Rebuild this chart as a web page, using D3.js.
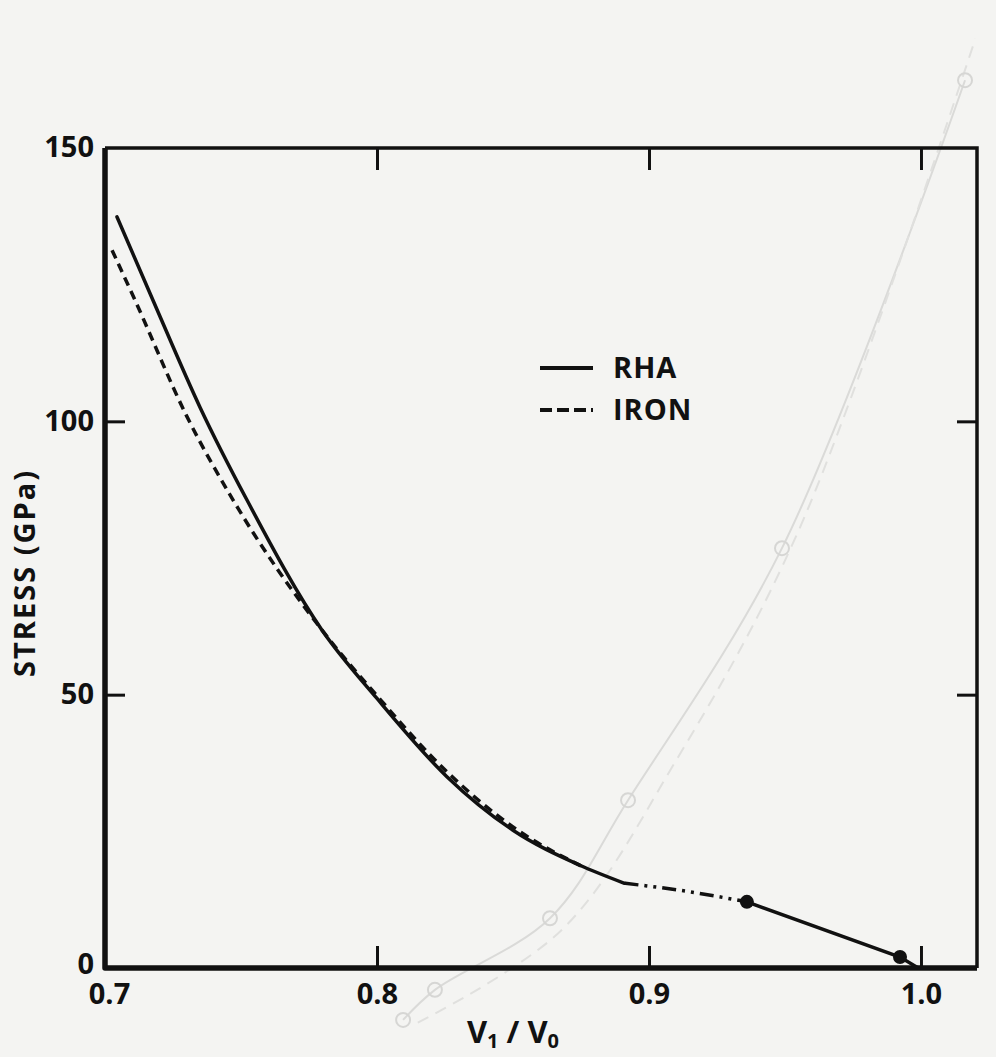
<!DOCTYPE html>
<html>
<head>
<meta charset="utf-8">
<script src="https://cdn.jsdelivr.net/npm/d3@7"></script>
<style>
  body { margin: 0; background: #f4f4f2; }
  svg { display: block; }
  text { font-family: "Open Sans", "DejaVu Sans", sans-serif; font-weight: 700; fill: #111; }
</style>
</head>
<body>
<div id="chart"></div>
<script>
// RHA curve (solid)
const rhaX = [0.7044, 0.7176, 0.735, 0.7522, 0.7798, 0.800, 0.8257, 0.850, 0.8746, 0.891];
const rhaY = [137.4, 122.2, 102.5, 85.6, 61.8, 49.3, 35.0, 25.2, 18.8, 15.5];

// dash-dot-dot bridge of RHA
const bridgeX = [0.891, 0.9103, 0.936];
const bridgeY = [15.5, 14.3, 12.1];

// low-stress RHA segment with data points
const lowX = [0.936, 0.9923, 0.999];
const lowY = [12.1, 2.0, 0.0];
const pointX = [0.936, 0.9923];
const pointY = [12.1, 2.0];

// IRON curve (dashed)
const ironX = [0.7026, 0.711, 0.730, 0.7471, 0.7798, 0.800, 0.8257, 0.850, 0.8757];
const ironY = [131.3, 122.2, 101.0, 85.6, 61.8, 49.8, 35.9, 25.8, 18.5];

// faint bleed-through from the reverse side of the page
const ghostX = [0.8096, 0.8213, 0.8636, 0.8923, 0.9489, 1.0162];
const ghostY = [-9.5, -4.0, 9.1, 30.7, 76.8, 162.4];
const ghost2X = [0.815, 0.868, 0.91, 0.955, 1.02];
const ghost2Y = [-10, 7, 38, 80, 170];

const xTicks = [0.7, 0.8, 0.9, 1.0];
const yTicks = [0, 50, 100, 150];
const legendNames = ["RHA", "IRON"];

const width = 996, height = 1057;
const margin = { top: 148, right: 19, bottom: 89, left: 105 };

const svg = d3.select("#chart").append("svg")
    .attr("width", width).attr("height", height);

const x = d3.scaleLinear()
    .domain([0.7, 1.0206])
    .range([margin.left, width - margin.right]);

const y = d3.scaleLinear()
    .domain([0, 150])
    .range([height - margin.bottom, margin.top]);

const zip = (xs, ys) => xs.map((v, i) => [v, ys[i]]);

// ghost layer
const ghostLine = d3.line().x(d => x(d[0])).y(d => y(d[1])).curve(d3.curveCatmullRom);
svg.append("path")
    .attr("d", ghostLine(zip(ghostX, ghostY)))
    .attr("fill", "none").attr("stroke", "#dadad8").attr("stroke-width", 2);
svg.append("path")
    .attr("d", ghostLine(zip(ghost2X, ghost2Y)))
    .attr("fill", "none").attr("stroke", "#e0e0de").attr("stroke-width", 2)
    .attr("stroke-dasharray", "12,8");
svg.selectAll("circle.ghost")
    .data(zip(ghostX, ghostY))
    .enter().append("circle")
    .attr("class", "ghost")
    .attr("cx", d => x(d[0])).attr("cy", d => y(d[1]))
    .attr("r", 7).attr("fill", "none")
    .attr("stroke", "#d6d6d4").attr("stroke-width", 2);

// axes
const x0 = x.range()[0], x1 = x.range()[1];
const y0 = y.range()[0], y1 = y.range()[1];

const bottomAxis = svg.append("g")
    .attr("transform", `translate(0,${y0})`)
    .call(d3.axisBottom(x).tickValues(xTicks).tickFormat(d3.format(".1f"))
        .tickSizeInner(-22).tickSizeOuter(0).tickPadding(15));
const topAxis = svg.append("g")
    .attr("transform", `translate(0,${y1})`)
    .call(d3.axisTop(x).tickValues(xTicks.slice(1)).tickFormat("")
        .tickSizeInner(-22).tickSizeOuter(0));
const leftAxis = svg.append("g")
    .attr("transform", `translate(${x0},0)`)
    .call(d3.axisLeft(y).tickValues(yTicks).tickFormat(d3.format("d"))
        .tickSizeInner(-20).tickSizeOuter(0).tickPadding(11));
const rightAxis = svg.append("g")
    .attr("transform", `translate(${x1},0)`)
    .call(d3.axisRight(y).tickValues([50, 100]).tickFormat("")
        .tickSizeInner(-20).tickSizeOuter(0));

[bottomAxis, topAxis, leftAxis, rightAxis].forEach(g => {
    g.select(".domain").remove();
    g.selectAll(".tick line").attr("stroke", "#111").attr("stroke-width", 3);
    g.selectAll(".tick text").attr("font-size", 29).attr("fill", "#111");
});
// hide corner ticks
bottomAxis.selectAll(".tick").filter(d => d === 0.7).select("line").remove();
bottomAxis.selectAll(".tick").filter(d => d === 0.7).select("text").attr("dx", 4);
leftAxis.selectAll(".tick").filter(d => d === 0 || d === 150).select("line").remove();
leftAxis.selectAll(".tick text").attr("dy", "0.3em");
leftAxis.selectAll(".tick").filter(d => d === 0).select("text").attr("dy", "0.2em");

// frame
svg.append("path")
    .attr("d", `M${x0},${y1}H${x1}V${y0}`)
    .attr("fill", "none").attr("stroke", "#111").attr("stroke-width", 3.5);
svg.append("path")
    .attr("d", `M${x0},${y1}V${y0}H${x1}`)
    .attr("fill", "none").attr("stroke", "#111").attr("stroke-width", 5.5)
    .attr("stroke-linejoin", "round");

// curves
const curve = d3.line().x(d => x(d[0])).y(d => y(d[1])).curve(d3.curveMonotoneX);
const straight = d3.line().x(d => x(d[0])).y(d => y(d[1]));

svg.append("path")
    .attr("d", curve(zip(ironX, ironY)))
    .attr("fill", "none").attr("stroke", "#111").attr("stroke-width", 3.5)
    .attr("stroke-dasharray", "9,6");

svg.append("path")
    .attr("d", curve(zip(rhaX, rhaY)))
    .attr("fill", "none").attr("stroke", "#111").attr("stroke-width", 3.5)
    .attr("stroke-linecap", "round");

svg.append("path")
    .attr("d", curve(zip(bridgeX, bridgeY)))
    .attr("fill", "none").attr("stroke", "#111").attr("stroke-width", 3.5)
    .attr("stroke-dasharray", "14,6,3,6,3,6");

svg.append("path")
    .attr("d", straight(zip(lowX, lowY)))
    .attr("fill", "none").attr("stroke", "#111").attr("stroke-width", 3.5);

svg.selectAll("circle.pt")
    .data(zip(pointX, pointY))
    .enter().append("circle")
    .attr("class", "pt")
    .attr("cx", d => x(d[0])).attr("cy", d => y(d[1]))
    .attr("r", 7).attr("fill", "#111");

// legend
const legend = svg.append("g").attr("transform", "translate(540,368)");
legendNames.forEach((name, i) => {
    legend.append("line")
        .attr("x1", 0).attr("x2", 53)
        .attr("y1", i * 42).attr("y2", i * 42)
        .attr("stroke", "#111").attr("stroke-width", 4)
        .attr("stroke-dasharray", i === 0 ? null : "12,5");
    legend.append("text")
        .attr("x", 73).attr("y", i * 42).attr("dy", "0.36em")
        .attr("font-size", 29).attr("letter-spacing", 1).text(name);
});

// axis titles
svg.append("text")
    .attr("transform", "translate(35,573) rotate(-90)")
    .attr("text-anchor", "middle")
    .attr("font-size", 29)
    .attr("letter-spacing", 2)
    .text("STRESS (GPa)");

const xt = svg.append("text")
    .attr("x", 513).attr("y", 1043)
    .attr("text-anchor", "middle")
    .attr("font-size", 31);
xt.append("tspan").text("V");
xt.append("tspan").attr("font-size", 20).attr("dy", 5).text("1");
xt.append("tspan").attr("dy", -5).text(" / V");
xt.append("tspan").attr("font-size", 20).attr("dy", 5).text("0");
</script>
</body>
</html>
